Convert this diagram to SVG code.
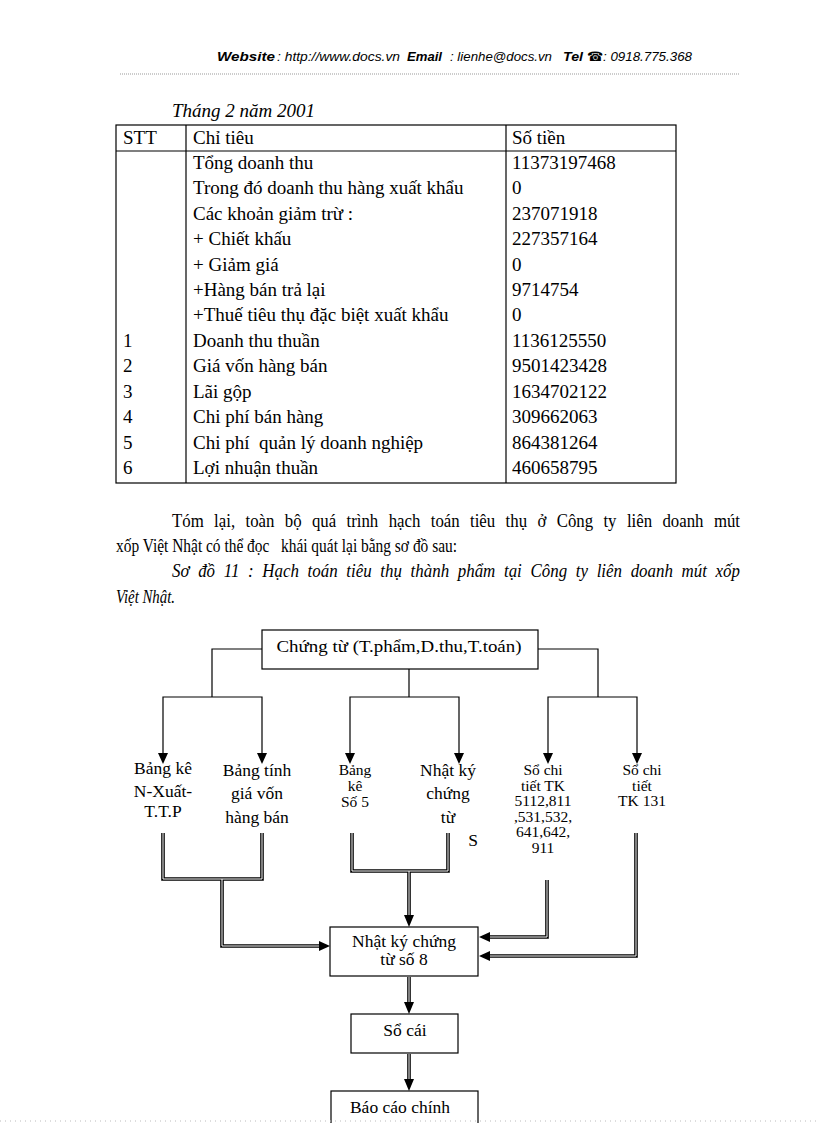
<svg xmlns="http://www.w3.org/2000/svg" width="816" height="1123" viewBox="0 0 816 1123">
<style>
.hd{font-family:"Liberation Sans","DejaVu Sans",sans-serif;font-size:13px;font-style:italic;fill:#000}
.hb{font-weight:bold}
.t{font-family:"Liberation Serif","DejaVu Serif",serif;font-size:19px;fill:#000}
.p{font-family:"Liberation Serif","DejaVu Serif",serif;font-size:19px;fill:#000}
.it{font-style:italic}
.d{font-family:"Liberation Serif","DejaVu Serif",serif;font-size:17.5px;fill:#000;text-anchor:middle}
.s{font-size:15.5px}
.box{fill:#fff;stroke:#000;stroke-width:1.2}
.grid{fill:none;stroke:#000;stroke-width:1.2}
.ln{fill:none;stroke:#000;stroke-width:1.2}
.dbl{fill:none;stroke:#000;stroke-width:3.6}
.dblw{fill:none;stroke:#fff;stroke-width:1}
.ah{fill:#000}
</style>
<rect width="816" height="1123" fill="#fff"/>
<g id="header">
<text class="hd hb" x="217" y="61" textLength="58" lengthAdjust="spacingAndGlyphs">Website</text>
<text class="hd" x="277" y="61" textLength="123" lengthAdjust="spacingAndGlyphs">: http://www.docs.vn</text>
<text class="hd hb" x="407" y="61" textLength="35" lengthAdjust="spacingAndGlyphs">Email</text>
<text class="hd" x="450" y="61" textLength="102" lengthAdjust="spacingAndGlyphs">: lienhe@docs.vn</text>
<text class="hd hb" x="563" y="61" textLength="20" lengthAdjust="spacingAndGlyphs">Tel</text>
<text class="hd hb" x="587" y="61">☎</text>
<text class="hd" x="603" y="61" textLength="89" lengthAdjust="spacingAndGlyphs">: 0918.775.368</text>
<line x1="120" y1="74" x2="740" y2="74" stroke="#999" stroke-width="1" stroke-dasharray="1,1"/>
</g>
<g id="table">
<text class="t it" x="172" y="117">Tháng 2 năm 2001</text>
<rect class="grid" x="116" y="125" width="560" height="358"/>
<line class="grid" x1="116" y1="151" x2="676" y2="151"/>
<line class="grid" x1="186" y1="125" x2="186" y2="483"/>
<line class="grid" x1="506" y1="125" x2="506" y2="483"/>
<text class="t" x="123" y="144">STT</text>
<text class="t" x="193" y="144">Chỉ tiêu</text>
<text class="t" x="512" y="144">Số tiền</text>
<text class="t" x="193" y="169">Tổng doanh thu</text><text class="t" x="512" y="169">11373197468</text>
<text class="t" x="193" y="194">Trong đó doanh thu hàng xuất khẩu</text><text class="t" x="512" y="194">0</text>
<text class="t" x="193" y="220">Các khoản giảm trừ :</text><text class="t" x="512" y="220">237071918</text>
<text class="t" x="193" y="245">+ Chiết khấu</text><text class="t" x="512" y="245">227357164</text>
<text class="t" x="193" y="271">+ Giảm giá</text><text class="t" x="512" y="271">0</text>
<text class="t" x="193" y="296">+Hàng bán trả lại</text><text class="t" x="512" y="296">9714754</text>
<text class="t" x="193" y="321">+Thuế tiêu thụ đặc biệt xuất khẩu</text><text class="t" x="512" y="321">0</text>
<text class="t" x="123" y="347">1</text><text class="t" x="193" y="347">Doanh thu thuần</text><text class="t" x="512" y="347">1136125550</text>
<text class="t" x="123" y="372">2</text><text class="t" x="193" y="372">Giá vốn hàng bán</text><text class="t" x="512" y="372">9501423428</text>
<text class="t" x="123" y="398">3</text><text class="t" x="193" y="398">Lãi gộp</text><text class="t" x="512" y="398">1634702122</text>
<text class="t" x="123" y="423">4</text><text class="t" x="193" y="423">Chi phí bán hàng</text><text class="t" x="512" y="423">309662063</text>
<text class="t" x="123" y="449">5</text><text class="t" x="193" y="449" xml:space="preserve">Chi phí  quản lý doanh nghiệp</text><text class="t" x="512" y="449">864381264</text>
<text class="t" x="123" y="474">6</text><text class="t" x="193" y="474">Lợi nhuận thuần</text><text class="t" x="512" y="474">460658795</text>
</g>
<g id="paragraph">
<text class="p" x="172" y="527" word-spacing="7" textLength="568" lengthAdjust="spacingAndGlyphs">Tóm lại, toàn bộ quá trình hạch toán tiêu thụ ở Công ty liên doanh mút</text>
<text class="p" x="116" y="552" xml:space="preserve" textLength="341" lengthAdjust="spacingAndGlyphs">xốp Việt Nhật có thể đọc   khái quát lại bằng sơ đồ sau:</text>
<text class="p it" x="172" y="577" word-spacing="5" textLength="568" lengthAdjust="spacingAndGlyphs">Sơ đồ 11 : Hạch toán tiêu thụ thành phẩm tại Công ty liên doanh mút xốp</text>
<text class="p it" x="116" y="603" textLength="59" lengthAdjust="spacingAndGlyphs">Việt Nhật.</text>
</g>
<g id="connectors">
<path class="ln" d="M262,649 H212 V697 M163,753 V697 H262 V753"/>
<path class="ln" d="M409,669 V697 M350,753 V697 H459 V753"/>
<path class="ln" d="M538,649 H598 V697 M548,753 V697 H637 V753"/>
<polygon class="ah" points="158,753 168,753 163,764"/>
<polygon class="ah" points="257,753 267,753 262,764"/>
<polygon class="ah" points="345,753 355,753 350,764"/>
<polygon class="ah" points="454,753 464,753 459,764"/>
<polygon class="ah" points="543,753 553,753 548,764"/>
<polygon class="ah" points="632,753 642,753 637,764"/>
<path class="dbl" d="M163,833 V879 H262 V833 M222,879 V946 H320"/>
<path class="dblw" d="M163,833 V879 H262 V833 M222,879 V946 H320"/>
<path class="dbl" d="M352,833 V871 H448 V833 M409,871 V916"/>
<path class="dblw" d="M352,833 V871 H448 V833 M409,871 V916"/>
<path class="dbl" d="M547,880 V937 H489"/>
<path class="dblw" d="M547,880 V937 H489"/>
<path class="dbl" d="M636,833 V956 H489"/>
<path class="dblw" d="M636,833 V956 H489"/>
<path class="dbl" d="M409,977 V1003"/>
<path class="dblw" d="M409,977 V1003"/>
<path class="dbl" d="M409,1054 V1080"/>
<path class="dblw" d="M409,1054 V1080"/>
<polygon class="ah" points="319,941 319,951 330,946"/>
<polygon class="ah" points="404,915 414,915 409,927"/>
<polygon class="ah" points="490,932 490,942 479,937"/>
<polygon class="ah" points="490,951 490,961 479,956"/>
<polygon class="ah" points="404,1002 414,1002 409,1014"/>
<polygon class="ah" points="404,1079 414,1079 409,1091"/>
</g>
<g id="node-chungtu">
<rect class="box" x="262" y="630" width="276" height="39"/>
<text class="d" x="399" y="652" font-size="18" textLength="245" lengthAdjust="spacingAndGlyphs">Chứng từ (T.phẩm,D.thu,T.toán)</text>
</g>
<g id="node-bangke-nx">
<text class="d" x="163" y="774">Bảng kê</text>
<text class="d" x="163" y="797" font-size="13">N-Xuất-</text>
<text class="d" x="163" y="817" font-size="13">T.T.P</text>
</g>
<g id="node-bangtinh">
<text class="d" x="257" y="776">Bảng tính</text>
<text class="d" x="257" y="799">giá vốn</text>
<text class="d" x="257" y="823">hàng bán</text>
</g>
<g id="node-bangke5">
<text class="d s" x="355" y="775">Bảng</text>
<text class="d s" x="355" y="791">kê</text>
<text class="d s" x="355" y="807">Số 5</text>
</g>
<g id="node-nkct">
<text class="d" x="448" y="776">Nhật ký</text>
<text class="d" x="448" y="799">chứng</text>
<text class="d" x="448" y="823">từ</text>
<text class="d" x="473" y="846">S</text>
</g>
<g id="node-sochitiet">
<text class="d s" x="543" y="775">Sổ chi</text>
<text class="d s" x="543" y="791">tiết TK</text>
<text class="d s" x="543" y="806">5112,811</text>
<text class="d s" x="543" y="822">,531,532,</text>
<text class="d s" x="543" y="837">641,642,</text>
<text class="d s" x="543" y="853">911</text>
</g>
<g id="node-sochitiet131">
<text class="d s" x="642" y="775">Sổ chi</text>
<text class="d s" x="642" y="791">tiết</text>
<text class="d s" x="642" y="806">TK 131</text>
</g>
<g id="node-nkct8">
<rect class="box" x="330" y="927" width="148" height="49"/>
<text class="d" x="404" y="947" font-size="16.5">Nhật ký chứng</text>
<text class="d" x="404" y="965" font-size="16.5">từ số 8</text>
</g>
<g id="node-socai">
<rect class="box" x="351" y="1014" width="107" height="39"/>
<text class="d" x="405" y="1036">Sổ cái</text>
</g>
<g id="node-baocao">
<rect class="box" x="331" y="1091" width="147" height="40"/>
<text class="d" x="400" y="1113">Báo cáo chính</text>
</g>
<line x1="0" y1="1121" x2="816" y2="1121" stroke="#bbb" stroke-width="1" stroke-dasharray="1,4"/>
</svg>
